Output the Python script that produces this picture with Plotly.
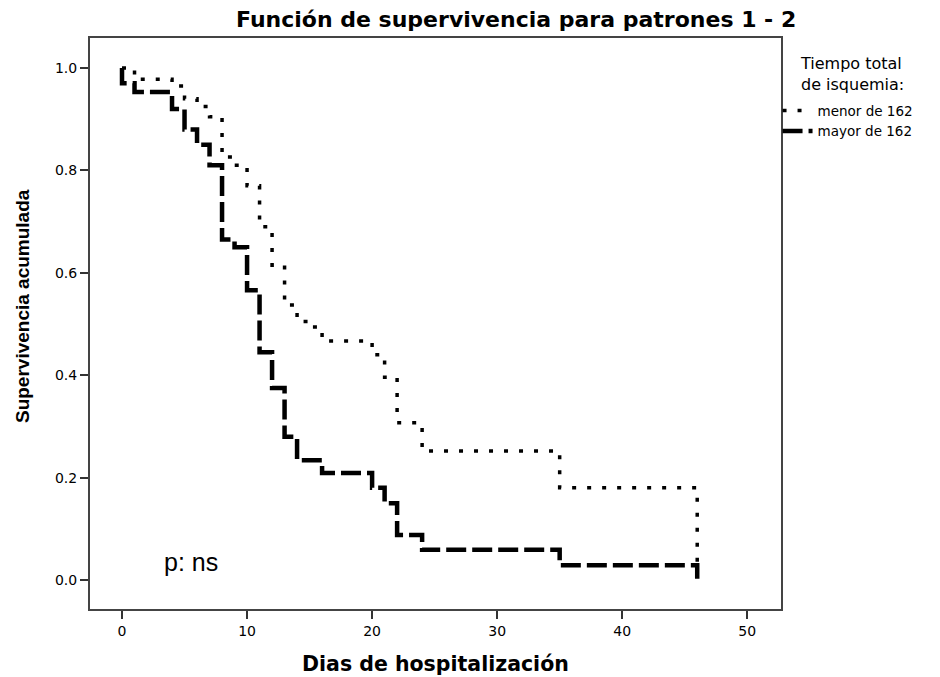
import plotly.graph_objects as go

# Kaplan-Meier step data
dias_menor = [0, 1, 4, 5, 6, 7, 8, 9, 10, 11, 12, 13, 14, 15, 16, 20, 21, 22, 24, 35, 46]
surv_menor = [1.0, 0.978, 0.965, 0.94, 0.925, 0.905, 0.826, 0.81, 0.77, 0.69, 0.615, 0.537,
              0.505, 0.494, 0.467, 0.44, 0.396, 0.307, 0.252, 0.18, 0.0]

dias_mayor = [0, 0, 1, 4, 5, 6, 7, 8, 9, 10, 11, 12, 13, 14, 16, 20, 21, 22, 24, 35, 46]
surv_mayor = [1.0, 0.97, 0.953, 0.92, 0.88, 0.85, 0.81, 0.665, 0.65, 0.566, 0.445, 0.375,
              0.28, 0.234, 0.209, 0.18, 0.15, 0.088, 0.059, 0.029, 0.0]

x_ticks = [0, 10, 20, 30, 40, 50]
y_ticks = [0.0, 0.2, 0.4, 0.6, 0.8, 1.0]

ARIAL = "Liberation Sans, Arial, sans-serif"
WIDE = "DejaVu Sans, Verdana, sans-serif"

fig = go.Figure()
fig.add_trace(go.Scatter(
    x=dias_menor, y=surv_menor, mode="lines", line_shape="hv",
    name="menor de 162",
    line=dict(color="black", width=3.5, dash="4px,11px"),
))
fig.add_trace(go.Scatter(
    x=dias_mayor, y=surv_mayor, mode="lines", line_shape="hv",
    name="mayor de 162",
    line=dict(color="black", width=4.5, dash="20px,6px"),
))

# p-value note
fig.add_annotation(x=5.5, y=0.035, xref="x", yref="y", text="p: ns", showarrow=False,
                   font=dict(family=ARIAL, size=25, color="black"))
# chart title
fig.add_annotation(x=0.6165, y=1.032, xref="paper", yref="paper", xanchor="center", yanchor="middle",
                   text="<b>Función de supervivencia para patrones 1 - 2</b>", showarrow=False,
                   font=dict(family=WIDE, size=22, color="black"))
# axis titles
fig.add_annotation(x=0.5, y=-0.0963, xref="paper", yref="paper", xanchor="center", yanchor="middle",
                   text="<b>Dias de hospitalización</b>", showarrow=False,
                   font=dict(family=WIDE, size=20.5, color="black"))
fig.add_annotation(x=-0.0984, y=0.5306, xref="paper", yref="paper", xanchor="center", yanchor="middle",
                   text="<b>Supervivencia acumulada</b>", showarrow=False, textangle=-90,
                   font=dict(family=ARIAL, size=19, color="black"))
# legend heading
fig.add_annotation(x=1.025, y=0.9755, xref="paper", yref="paper", xanchor="left", yanchor="top",
                   align="left", text="Tiempo total<br>de isquemia:", showarrow=False,
                   font=dict(family=WIDE, size=16, color="black"))

fig.update_layout(
    width=940, height=677,
    margin=dict(l=90, r=159, t=38, b=68),
    paper_bgcolor="white", plot_bgcolor="white",
    font=dict(family=ARIAL, color="black"),
    showlegend=True,
    legend=dict(
        x=0.995, xanchor="left", y=0.9, yanchor="top",
        font=dict(family=WIDE, size=13.5),
        itemwidth=30, tracegroupgap=0, bgcolor="rgba(0,0,0,0)",
    ),
    xaxis=dict(
        range=[-2.56, 52.7], tickvals=x_ticks, ticks="outside", ticklen=8, tickwidth=2,
        tickcolor="#333", showgrid=False, zeroline=False, showline=True, linecolor="#444",
        linewidth=2, mirror=True, tickfont=dict(family=WIDE, size=14),
    ),
    yaxis=dict(
        range=[-0.0566, 1.0586], tickvals=y_ticks, tickformat=".1f", ticks="outside", ticklen=8,
        tickwidth=2, tickcolor="#333", showgrid=False, zeroline=False, showline=True,
        linecolor="#444", linewidth=2, mirror=True, tickfont=dict(family=WIDE, size=14),
    ),
)

fig.write_html("out.html")
